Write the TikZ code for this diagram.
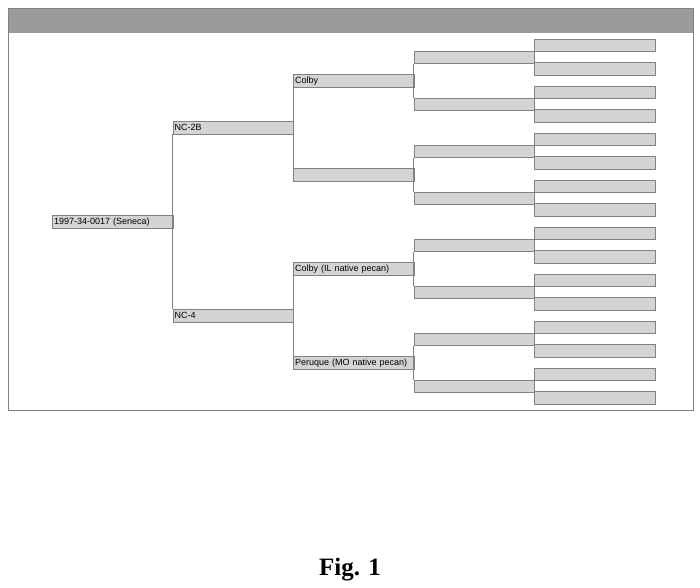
\documentclass[tikz,border=0pt]{standalone}
\usepackage{fontspec}
\setmainfont{Liberation Serif}
\setsansfont{Liberation Sans}
\definecolor{boxgray}{RGB}{212, 212, 212}
\definecolor{linegray}{RGB}{130, 130, 130}
\definecolor{bargray}{RGB}{155, 155, 155}
\usetikzlibrary{positioning, calc}

\begin{document}
\begin{tikzpicture}[
  x=1pt, y=-1pt,
  pedbox/.style={draw=linegray, fill=boxgray, line width=0.6pt, anchor=west, minimum width=120.5pt, minimum height=12.5pt, text width=117pt, align=left, inner xsep=1.5pt, inner ysep=1pt, text height=6.5pt, text depth=2pt, font=\sffamily\fontsize{9}{10}\selectfont},
  link/.style={draw=linegray, line width=0.6pt}
]
  \useasboundingbox (0,0) rectangle (700,587);

  % Frame and title bar
  \fill[bargray] (8,8) rectangle (693,33);
  \draw[linegray, line width=0.8pt] (8,8) rectangle (693,410);

  % Generations
  \node[pedbox] (root) at (52, 221.75) {1997-34-0017 (Seneca)};
  \node[pedbox] (nc2b) at (172.5, 127.75) {NC-2B};
  \node[pedbox] (nc4) at (172.5, 315.75) {NC-4};
  \node[pedbox] (colby) at (293, 80.75) {Colby};
  \node[pedbox] (gpa) at (293, 174.75) {};
  \node[pedbox] (colbyil) at (293, 268.75) {Colby (IL native pecan)};
  \node[pedbox] (peruque) at (293, 362.75) {Peruque (MO native pecan)};
  \foreach \j in {0,...,7}
    \node[pedbox] (ggp\j) at (413.5, 57.25+47*\j) {};
  \foreach \i in {0,...,15}
    \node[pedbox] (gggp\i) at (534, 45.5+23.5*\i) {};

  % Links
  \draw[link] (nc2b.south west) -- (nc4.north west);
  \draw[link] (colby.south west) -- (gpa.north west);
  \draw[link] (colbyil.south west) -- (peruque.north west);
  \foreach \j in {0,2,4,6} {
    \pgfmathtruncatemacro{\k}{\j+1}
    \draw[link] (ggp\j.south west) -- (ggp\k.north west);
  }
  \foreach \i in {0,2,...,14} {
    \pgfmathtruncatemacro{\k}{\i+1}
    \draw[link] (gggp\i.south west) -- (gggp\k.north west);
  }

  % Caption
  \node[anchor=base, font=\bfseries\fontsize{25}{28}\selectfont] (caption) at (350, 575) {Fig. 1};
\end{tikzpicture}
\end{document}
